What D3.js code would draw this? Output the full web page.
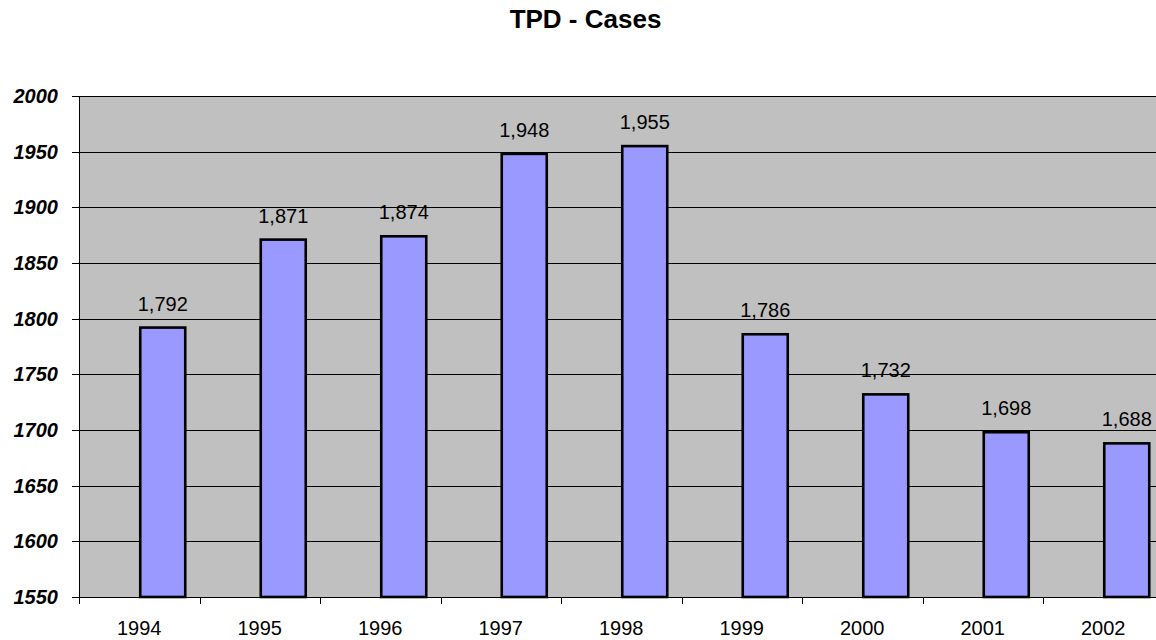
<!DOCTYPE html>
<html lang="en">
  <head>
    <meta charset="UTF-8" />
    <title>TPD - Cases</title>
    <style>
      body {
        margin: 0;
        background: #fff;
        font-family: Arial, 'Liberation Sans', sans-serif;
      }
      .grid line {
        stroke: #000;
        shape-rendering: crispEdges;
      }
      .ylab {
        font-weight: bold;
        font-style: italic;
        font-size: 20px;
      }
    </style>
  </head>
  <body>
    <div id="chart"></div>

    <script src="https://d3js.org/d3.v7.min.js"></script>
    <script>
      const years = ['1994', '1995', '1996', '1997', '1998', '1999', '2000', '2001', '2002'];
      const cases = [1792, 1871, 1874, 1948, 1955, 1786, 1732, 1698, 1688];
      const yTicks = [1550, 1600, 1650, 1700, 1750, 1800, 1850, 1900, 1950, 2000];

      const W = 1156, H = 640;
      const plot = { left: 79, top: 96, bottom: 597, step: 120.5 };
      plot.right = plot.left + plot.step * years.length;

      const svg = d3
        .select('#chart')
        .append('svg')
        .attr('width', W)
        .attr('height', H);

      const x = d3.scaleBand().domain(years).range([plot.left, plot.right]).padding(0);
      const y = d3.scaleLinear().domain([1550, 2000]).range([plot.bottom, plot.top]);

      const barW = 45;
      const barShift = 23.5; // bars sit right of the category centre

      // plot background
      svg
        .append('rect')
        .attr('x', plot.left)
        .attr('y', plot.top)
        .attr('width', plot.right - plot.left)
        .attr('height', plot.bottom - plot.top)
        .attr('fill', '#c0c0c0');

      // gridlines
      const yAxis = d3
        .axisLeft(y)
        .tickValues(yTicks)
        .tickSize(-(plot.right - plot.left))
        .tickFormat('')
        .tickSizeOuter(0);
      svg
        .append('g')
        .attr('class', 'grid')
        .attr('transform', `translate(${plot.left},0)`)
        .call(yAxis)
        .call((g) => g.select('.domain').remove());

      // small outer ticks on the left
      svg
        .append('g')
        .selectAll('line')
        .data(yTicks)
        .enter()
        .append('line')
        .attr('x1', plot.left - 7)
        .attr('x2', plot.left)
        .attr('y1', (d) => Math.round(y(d)) + 0.5)
        .attr('y2', (d) => Math.round(y(d)) + 0.5)
        .attr('stroke', '#000');

      svg
        .append('g')
        .selectAll('text')
        .data(yTicks)
        .enter()
        .append('text')
        .attr('class', 'ylab')
        .attr('x', 58)
        .attr('y', (d) => y(d) + 7)
        .attr('text-anchor', 'end')
        .text((d) => d);

      // bars
      svg
        .append('g')
        .selectAll('rect')
        .data(cases)
        .enter()
        .append('rect')
        .attr('x', (d, i) => x(years[i]) + x.bandwidth() / 2 + barShift - barW / 2)
        .attr('y', (d) => y(d))
        .attr('width', barW)
        .attr('height', (d) => plot.bottom - y(d))
        .attr('fill', '#9999ff')
        .attr('stroke', '#000')
        .attr('stroke-width', 2.6);

      // value labels
      svg
        .append('g')
        .selectAll('text')
        .data(cases)
        .enter()
        .append('text')
        .attr('x', (d, i) => x(years[i]) + x.bandwidth() / 2 + barShift)
        .attr('y', (d) => y(d) - 17)
        .attr('text-anchor', 'middle')
        .style('font-size', '20px')
        .text((d) => d3.format(',')(d));

      // axis lines
      svg
        .append('line')
        .attr('x1', plot.left + 0.5)
        .attr('x2', plot.left + 0.5)
        .attr('y1', plot.top)
        .attr('y2', plot.bottom)
        .attr('stroke', '#000');
      svg
        .append('line')
        .attr('x1', plot.left - 7)
        .attr('x2', plot.right)
        .attr('y1', plot.bottom + 0.5)
        .attr('y2', plot.bottom + 0.5)
        .attr('stroke', '#000');

      // category ticks between years
      svg
        .append('g')
        .selectAll('line')
        .data(d3.range(years.length + 1))
        .enter()
        .append('line')
        .attr('x1', (i) => Math.round(plot.left + i * x.step()) + 0.5)
        .attr('x2', (i) => Math.round(plot.left + i * x.step()) + 0.5)
        .attr('y1', plot.bottom)
        .attr('y2', plot.bottom + 7)
        .attr('stroke', '#000');

      svg
        .append('g')
        .selectAll('text')
        .data(years)
        .enter()
        .append('text')
        .attr('x', (d) => x(d) + x.bandwidth() / 2)
        .attr('y', plot.bottom + 38)
        .attr('text-anchor', 'middle')
        .style('font-size', '20px')
        .text((d) => d);

      // title
      svg
        .append('text')
        .attr('x', 585.5)
        .attr('y', 28)
        .attr('text-anchor', 'middle')
        .style('font-size', '26px')
        .style('font-weight', 'bold')
        .text('TPD - Cases');
    </script>
  </body>
</html>
